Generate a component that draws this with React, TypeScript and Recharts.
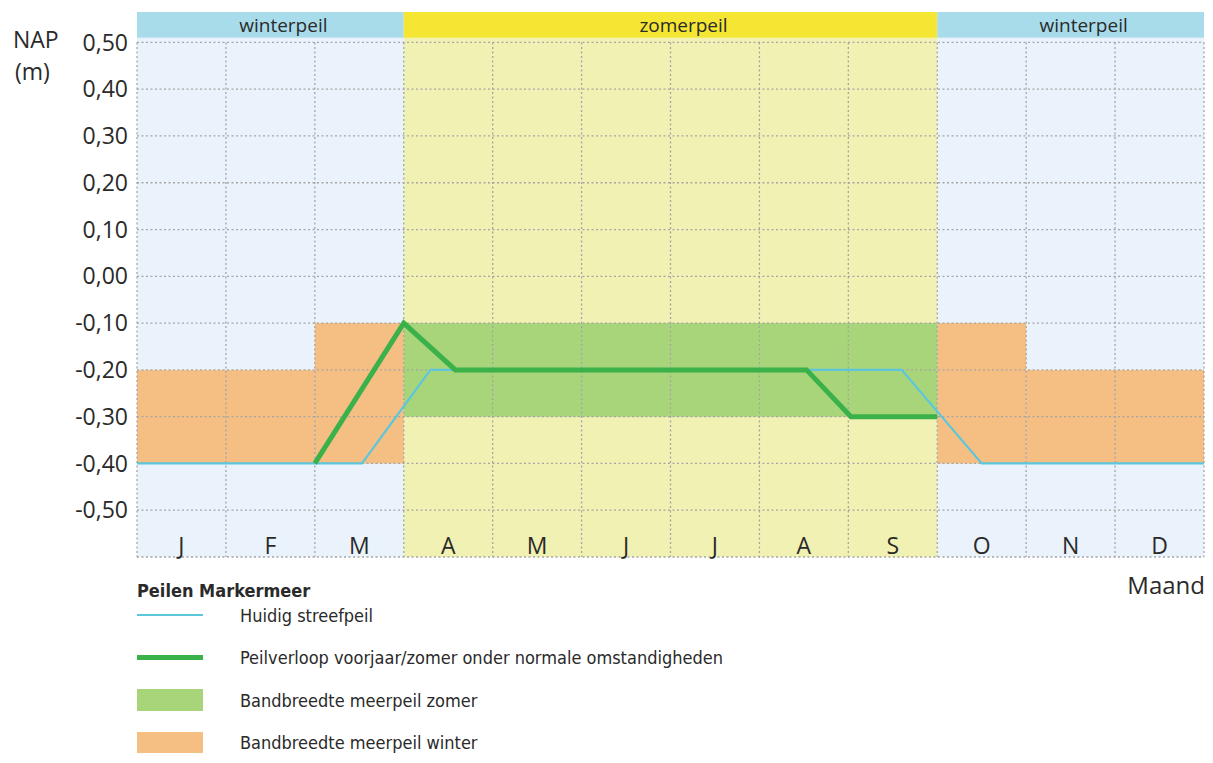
import React from 'react'
import { ComposedChart, Line, XAxis, YAxis, ReferenceArea, ReferenceLine } from 'recharts'

// maanden (x = 0..12, elke maand 1 eenheid)
const months = ['J', 'F', 'M', 'A', 'M', 'J', 'J', 'A', 'S', 'O', 'N', 'D']
const monthTicks = [0.5, 1.5, 2.5, 3.5, 4.5, 5.5, 6.5, 7.5, 8.5, 9.5, 10.5, 11.5]
const monthEdges = [0, 1, 2, 3, 4, 5, 6, 7, 8, 9, 10, 11, 12]

// NAP (m)
const levelTicks = [0.5, 0.4, 0.3, 0.2, 0.1, 0, -0.1, -0.2, -0.3, -0.4, -0.5]
const gridLevels = [0.5, 0.4, 0.3, 0.2, 0.1, 0, -0.1, -0.2, -0.3, -0.4, -0.5, -0.6]

const seasons = [
  { label: 'winterpeil', from: 0, to: 3, kind: 'winter' },
  { label: 'zomerpeil', from: 3, to: 9, kind: 'zomer' },
  { label: 'winterpeil', from: 9, to: 12, kind: 'winter' },
]

const winterBand = [
  { from: 0, to: 2, low: -0.4, high: -0.2 },
  { from: 2, to: 3, low: -0.4, high: -0.1 },
  { from: 9, to: 10, low: -0.4, high: -0.1 },
  { from: 10, to: 12, low: -0.4, high: -0.2 },
]

const summerBand = [{ from: 3, to: 9, low: -0.3, high: -0.1 }]

const streefpeil = [
  { x: 0, y: -0.4 },
  { x: 2.53, y: -0.4 },
  { x: 3.3, y: -0.2 },
  { x: 8.6, y: -0.2 },
  { x: 9.5, y: -0.4 },
  { x: 12, y: -0.4 },
]

const peilverloop = [
  { x: 2, y: -0.4 },
  { x: 3, y: -0.1 },
  { x: 3.58, y: -0.2 },
  { x: 7.53, y: -0.2 },
  { x: 8.03, y: -0.3 },
  { x: 9, y: -0.3 },
]

const legendItems = [
  { label: 'Huidig streefpeil', type: 'line', color: '#5cc6dc', size: 2 },
  { label: 'Peilverloop voorjaar/zomer onder normale omstandigheden', type: 'line', color: '#3bb14a', size: 5 },
  { label: 'Bandbreedte meerpeil zomer', type: 'box', color: '#a9d57a', size: 22 },
  { label: 'Bandbreedte meerpeil winter', type: 'box', color: '#f5bf84', size: 22 },
]

const FONT = "'Open Sans', 'Noto Sans', sans-serif"
const NARROW = "'Liberation Sans Narrow', 'DejaVu Sans Condensed', 'DejaVu Sans', sans-serif"
const TEXT = '#2a2a2a'

const BG = { winter: '#eaf3fb', zomer: '#f0f1b3' }
const HEADER = { winter: '#a9dcea', zomer: '#f4e632' }

const fmt = (v: number) => v.toFixed(2).replace('.', ',')

const MonthTick = (props: any) => {
  const { x, y, payload } = props
  return (
    <text x={x} y={y - 3} textAnchor="middle" fontSize={23} fill={TEXT} fontFamily={FONT}>
      {months[Math.floor(payload.value)]}
    </text>
  )
}

export default function App() {
  return (
    <div style={{ position: 'relative', width: 1197, height: 745 }}>
      <style>{'html { overflow: hidden; }'}</style>
      <div style={{ position: 'absolute', left: 5, top: 15, fontFamily: FONT, fontSize: 23, color: TEXT, lineHeight: '32px' }}>
        <div>NAP</div>
        <div style={{ marginLeft: 2 }}>(m)</div>
      </div>

      <ComposedChart width={1197} height={560} margin={{ top: 4, right: 1, bottom: 10, left: 49 }}>
        <XAxis
          type="number"
          dataKey="x"
          domain={[0, 12]}
          allowDataOverflow
          ticks={monthTicks}
          tick={<MonthTick />}
          axisLine={false}
          tickLine={false}
          tickSize={0}
          tickMargin={0}
          height={1}
          interval={0}
        />
        <YAxis
          type="number"
          domain={[-0.6, 0.565]}
          allowDataOverflow
          ticks={levelTicks}
          tickFormatter={fmt}
          axisLine={false}
          tickLine={false}
          tickSize={0}
          tickMargin={9}
          width={80}
          interval={0}
          tick={{ fontSize: 23, fill: TEXT, fontFamily: FONT }}
        />

        {seasons.map((s, i) => (
          <ReferenceArea
            key={'bg' + i}
            x1={s.from}
            x2={s.to}
            y1={-0.6}
            y2={0.51}
            fill={BG[s.kind as 'winter' | 'zomer']}
            fillOpacity={1}
            stroke="none"
            zIndex={10}
          />
        ))}
        {winterBand.map((b, i) => (
          <ReferenceArea key={'w' + i} x1={b.from} x2={b.to} y1={b.low} y2={b.high} fill="#f5bf84" fillOpacity={1} stroke="none" zIndex={20} />
        ))}
        {summerBand.map((b, i) => (
          <ReferenceArea key={'z' + i} x1={b.from} x2={b.to} y1={b.low} y2={b.high} fill="#a9d57a" fillOpacity={1} stroke="none" zIndex={20} />
        ))}

        {gridLevels.map((v) => (
          <ReferenceLine key={'h' + v} y={v} stroke="#a5a5a5" strokeDasharray="2 2.5" strokeWidth={1.3} zIndex={30} />
        ))}
        {monthEdges.map((m) => (
          <ReferenceLine
            key={'v' + m}
            segment={[{ x: m, y: 0.5 }, { x: m, y: -0.6 }]}
            stroke="#a5a5a5"
            strokeDasharray="2 2.5"
            strokeWidth={1.3}
            zIndex={30}
            ifOverflow="visible"
          />
        ))}

        {seasons.map((s, i) => (
          <ReferenceArea
            key={'hd' + i}
            x1={s.from}
            x2={s.to}
            y1={0.51}
            y2={0.565}
            fill={HEADER[s.kind as 'winter' | 'zomer']}
            fillOpacity={1}
            stroke="none"
            zIndex={50}
            label={{ value: s.label, position: 'center', fontSize: 19, fill: TEXT, fontFamily: FONT, dx: 13 }}
          />
        ))}

        <Line
          data={streefpeil}
          dataKey="y"
          type="linear"
          stroke="#5cc6dc"
          strokeWidth={2.2}
          dot={false}
          activeDot={false}
          isAnimationActive={false}
          zIndex={40}
        />
        <Line
          data={peilverloop}
          dataKey="y"
          type="linear"
          stroke="#3bb14a"
          strokeWidth={5}
          strokeLinejoin="miter"
          dot={false}
          activeDot={false}
          isAnimationActive={false}
          zIndex={41}
        />
      </ComposedChart>

      <div style={{ position: 'absolute', right: 0, top: 560, fontFamily: FONT, fontSize: 24, color: TEXT }}>Maand</div>

      <div style={{ position: 'absolute', left: 129, top: 572, fontFamily: NARROW, color: TEXT }}>
        <div style={{ fontWeight: 'bold', fontSize: 18, lineHeight: '22px' }}>Peilen Markermeer</div>
        {legendItems.map((it) => (
          <div key={it.label} style={{ display: 'flex', alignItems: 'center', height: 42.5, marginTop: it.type === 'line' && it.size === 2 ? -8 : 0 }}>
            <div style={{ width: 66, height: it.size, background: it.color, marginRight: 37 }} />
            <div style={{ fontSize: 18 }}>{it.label}</div>
          </div>
        ))}
      </div>
    </div>
  )
}
